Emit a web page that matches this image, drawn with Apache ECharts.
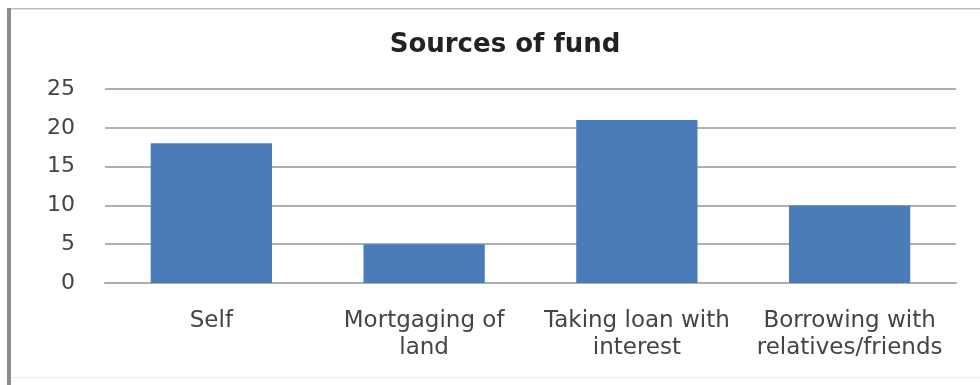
<!DOCTYPE html>
<html>
<head>
<meta charset="utf-8">
<script src="https://cdn.jsdelivr.net/npm/echarts@6/dist/echarts.min.js"></script>
<style>
  html, body { margin: 0; padding: 0; background: #ffffff; }
  #chart { width: 980px; height: 385px; }
</style>
</head>
<body>
<div id="chart"></div>
<script>
// Categories and counts for each source of funding
var categories = ['Self', 'Mortgaging of\nland', 'Taking loan with\ninterest', 'Borrowing with\nrelatives/friends'];
var counts = [18, 5, 21, 10];
var yTicks = [0, 5, 10, 15, 20, 25];

var FONT = '"DejaVu Sans", "Open Sans", sans-serif';

var chart = echarts.init(document.getElementById('chart'), null, { renderer: 'canvas' });

chart.setOption({
  backgroundColor: '#ffffff',
  animation: false,
  title: {
    text: 'Sources of fund',
    left: 500,
    top: 27,
    textAlign: 'center',
    textStyle: { fontFamily: FONT, fontSize: 26, fontWeight: 'bold', color: '#222222' }
  },
  grid: { left: 105, right: 24, top: 89, bottom: 102, containLabel: false },
  xAxis: {
    type: 'category',
    data: categories,
    axisTick: { show: false },
    axisLine: { show: true, lineStyle: { color: '#adadad', width: 2 } },
    axisLabel: {
      interval: 0,
      margin: 25,
      fontFamily: FONT,
      fontSize: 23,
      lineHeight: 27,
      color: '#444444'
    }
  },
  yAxis: {
    type: 'value',
    min: yTicks[0],
    max: yTicks[yTicks.length - 1],
    interval: yTicks[1] - yTicks[0],
    axisLine: { show: false },
    axisTick: { show: false },
    splitLine: { lineStyle: { color: '#b0b0b0', width: 2 } },
    axisLabel: {
      margin: 30,
      fontFamily: FONT,
      fontSize: 22,
      color: '#444444'
    }
  },
  series: [{
    type: 'bar',
    data: counts,
    barWidth: '57%',
    itemStyle: { color: '#4a7cba' }
  }],
  graphic: [
    // outer frame: dark left edge, thin top and bottom edges
    { type: 'rect', shape: { x: 7, y: 8, width: 4, height: 377 }, style: { fill: '#8c8c8c' }, z: 10 },
    { type: 'rect', shape: { x: 11, y: 8, width: 969, height: 1.5 }, style: { fill: '#bdbdbd' }, z: 10 },
    { type: 'rect', shape: { x: 11, y: 377, width: 969, height: 1 }, style: { fill: '#ececec' }, z: 10 }
  ]
});
</script>
</body>
</html>
